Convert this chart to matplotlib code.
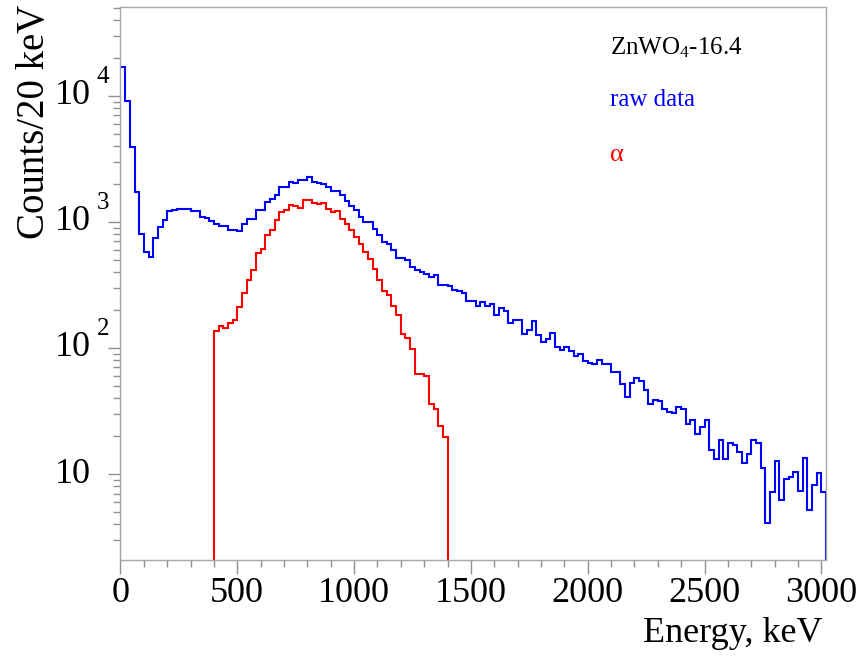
import numpy as np
import matplotlib
matplotlib.use("Agg")
import matplotlib.pyplot as plt
from matplotlib.ticker import MultipleLocator, NullFormatter, LogLocator
from matplotlib.transforms import blended_transform_factory, offset_copy

# spectrum, 20 keV bins starting at 0 keV
bin_width = 20
raw_counts = [
    17000, 9100, 3900, 1730, 800, 580, 525, 740, 910, 1030,
    1220, 1240, 1260, 1260, 1260, 1220, 1220, 1090, 1080, 1020,
    960, 935, 930, 860, 870, 850, 960, 1060, 1060, 1240,
    1240, 1440, 1530, 1630, 1900, 1900, 2080, 2020, 2140, 2150,
    2250, 2080, 2020, 1990, 1900, 1760, 1760, 1630, 1470, 1330,
    1240, 1100, 1000, 1000, 885, 785, 695, 665, 595, 520,
    520, 496, 440, 414, 401, 389, 366, 377, 314, 314,
    310, 287, 284, 273, 236, 236, 214, 232, 214, 222,
    182, 209, 196, 159, 168, 166, 128, 140, 164, 126,
    112, 117, 132, 102, 96, 102, 95, 87, 89, 79,
    76, 75, 81, 74, 75, 65, 65, 52, 41, 53,
    58, 55, 46, 36, 39, 38, 33, 31, 30.5, 34,
    33, 24.8, 27, 20.6, 23.6, 26.7, 15.4, 13.2, 18.5, 13.2,
    17.6, 16.9, 15.0, 12.2, 14.3, 18.5, 17.6, 11.2, 4.1, 7.2,
    12.6, 6.2, 9.2, 9.5, 10.4, 7.3, 13.5, 5.2, 8.2, 10.2,
    7.2,
]

# alpha component, starts at 400 keV
alpha_start = 400
alpha_counts = [
    136, 150, 143, 158, 166, 211, 273, 349, 414, 568,
    604, 784, 859, 1030, 1200, 1250, 1370, 1330, 1300, 1500,
    1500, 1420, 1380, 1400, 1260, 1200, 1220, 1060, 960, 860,
    760, 665, 580, 512, 420, 345, 284, 262, 214, 182,
    129, 119, 99, 62, 62, 60, 36, 33, 24, 19.7,
]

decades = [10, 100, 1000, 10000]
decade_exp = ['', '2', '3', '4']

plt.rcParams['font.family'] = ['Liberation Serif', 'DejaVu Serif']
plt.rcParams['mathtext.fontset'] = 'custom'
plt.rcParams['mathtext.rm'] = 'Liberation Serif'
plt.rcParams['mathtext.it'] = 'Liberation Serif:italic'

fig = plt.figure(figsize=(8.65, 6.56), dpi=100)
ax = fig.add_axes([0.1393, 0.1463, 0.8156, 0.843])

raw_edges = np.arange(len(raw_counts) + 1) * bin_width
alpha_edges = alpha_start + np.arange(len(alpha_counts) + 1) * bin_width

ax.stairs(alpha_counts, alpha_edges, baseline=1e-2, color='#ff0000', lw=1.5)
ax.stairs(raw_counts, raw_edges, baseline=1e-2, color='#0000ff', lw=1.5)

ax.set_yscale('log')
ax.set_xlim(0, 3020)
ax.set_ylim(2.08, 5.06e4)

for s in ax.spines.values():
    s.set_color('#a8a8a8')
    s.set_linewidth(1.0)

ax.xaxis.set_major_locator(MultipleLocator(500))
ax.xaxis.set_minor_locator(MultipleLocator(100))
ax.tick_params(axis='x', which='major', direction='out', length=10, width=1,
               color='#909090', labelsize=26, pad=2)
ax.tick_params(axis='x', which='minor', direction='out', length=5, width=1,
               color='#909090')
ax.tick_params(axis='y', which='major', direction='out', length=9, width=1,
               color='#909090')
ax.tick_params(axis='y', which='minor', direction='out', length=5, width=1,
               color='#909090')
ax.yaxis.set_major_locator(LogLocator(base=10))
ax.yaxis.set_minor_locator(LogLocator(base=10, subs=np.arange(2, 10)))
ax.yaxis.set_major_formatter(NullFormatter())
ax.yaxis.set_minor_formatter(NullFormatter())

# ROOT style y labels: base "10" aligned, exponent hanging to the right
trans = blended_transform_factory(ax.transAxes, ax.transData)
base_tr = offset_copy(trans, fig=fig, x=-30, y=0, units='dots')
exp_tr = offset_copy(trans, fig=fig, x=-24, y=19, units='dots')
for d, e in zip(decades, decade_exp):
    ax.text(0, d, '10', transform=base_tr, ha='right', va='center', fontsize=26)
    if e:
        ax.text(0, d, e, transform=exp_tr, ha='left', va='center', fontsize=18)

ax.set_xlabel('Energy, keV', fontsize=26, loc='right')
ax.xaxis.set_label_coords(0.995, -0.132)
ax.xaxis.label.set_va('center')
ax.set_ylabel('Counts/20 keV', fontsize=28, loc='top')
ax.yaxis.set_label_coords(-0.122, 1.004)
ax.yaxis.label.set_va('center')

fig.text(610 / 865, 1 - 48 / 656, r'ZnWO$_4$-16.4', fontsize=18, color='black',
         ha='left', va='center')
fig.text(610 / 865, 1 - 100 / 656, 'raw data', fontsize=18, color='#0000ff',
         ha='left', va='center')
fig.text(610 / 865, 1 - 155 / 656, '\u03b1', fontsize=19, color='#ff0000',
         ha='left', va='center')

fig.savefig('out.png', dpi=100)
